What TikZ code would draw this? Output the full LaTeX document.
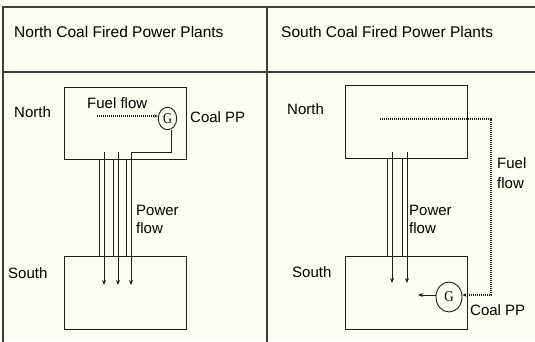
\documentclass[tikz,border=0pt]{standalone}
\usepackage{fontspec}
\setmainfont{Liberation Sans}
\newfontfamily\gfont{Liberation Serif}
\usetikzlibrary{arrows.meta}
\definecolor{bgcream}{RGB}{253,253,240}
\definecolor{inkc}{RGB}{30,30,30}
\begin{document}
\begin{tikzpicture}[x=1pt,y=-1pt,
  lbl/.style={anchor=base west,inner sep=0pt,font=\fontsize{15}{17}\selectfont,text=black},
  ttl/.style={anchor=base west,inner sep=0pt,font=\fontsize{15.5}{18}\selectfont,text=black},
  areabox/.style={draw=inkc,line width=1pt},
  frameline/.style={draw=inkc!85,line width=1.4pt},
  pline/.style={draw=inkc,line width=0.9pt},
  parrow/.style={draw=inkc,line width=0.9pt,-{Stealth[length=5pt,width=4pt]}},
  fuel/.style={draw=inkc,line width=1.1pt,dash pattern=on 1.3pt off 0.7pt},
]
\useasboundingbox (0,0) rectangle (535,341);
\fill[bgcream] (0,0) rectangle (535,341);
\clip (0,0) rectangle (535,341);
% frame
\draw[frameline] (3,345) -- (3,7) -- (540,7);
\draw[frameline] (3,72) -- (540,72);
\draw[frameline] (267,7) -- (267,345);
% titles
\node[ttl] (t1) at (14,37) {North Coal Fired Power Plants};
\node[ttl] (t2) at (281,37) {South Coal Fired Power Plants};

% ===== left panel =====
\node[lbl] (nl) at (14,117) {North};
\node[lbl] (sl) at (8,278) {South};
\draw[areabox] (64,87) rectangle (186,159);
\draw[areabox] (64,256) rectangle (186,329);
\node[lbl] (ff1) at (87,108) {Fuel flow};
\node[draw=inkc,line width=0.9pt,shape=circle,inner sep=0pt,minimum size=21pt,font=\gfont\fontsize{14}{16}\selectfont,xscale=0.88,yscale=1.07] (g1) at (167.5,118.5) {G};
\coordinate (f1s) at (97,116);
\draw[fuel,-{Stealth[length=4pt,width=3.5pt]}] (f1s) -- (f1s -| g1.west);
\node[lbl] (cp1) at (190,122) {Coal PP};
\node[lbl] (pf1a) at (136,215) {Power};
\node[lbl] (pf1b) at (136,233) {flow};
% power lines
\coordinate (k1) at (171,152);
\draw[pline] (g1.south -| k1) -- (k1) -- (131,152) -- (131,160);
\foreach \xa/\xb in {99/104,113/118,126/131}{
  \draw[pline] (\xa,159) -- (\xa,256);
  \draw[parrow] (\xb,152) -- (\xb,285);
}

% ===== right panel =====
\node[lbl] (nr) at (287,114) {North};
\node[lbl] (sr) at (292,277) {South};
\draw[areabox] (345,85) rectangle (467,158);
\draw[areabox] (345,256) rectangle (467,329);
\node[lbl] (ff2a) at (497,168) {Fuel};
\node[lbl] (ff2b) at (497,188) {flow};
\node[lbl] (pf2a) at (409,215) {Power};
\node[lbl] (pf2b) at (409,233) {flow};
\node[draw=inkc,line width=0.9pt,shape=circle,inner sep=0pt,minimum size=28pt,font=\gfont\fontsize{14}{16}\selectfont,xscale=0.93,yscale=1.07] (g2) at (449,297) {G};
\node[lbl] (cp2) at (470,315) {Coal PP};
\coordinate (fs2) at (380,119);
\coordinate (fc2) at (491,119);
\coordinate (fd2) at (491,295);
\draw[fuel,-{Stealth[length=4pt,width=3.5pt]}] (fs2) -- (fc2) -- (fd2) -- (fd2 -| g2.east);
\coordinate (ga2) at (418,295);
\draw[parrow] (g2.west |- ga2) -- (ga2);
\foreach \xa/\xb in {387/392,402/407}{
  \draw[pline] (\xa,158) -- (\xa,256);
  \draw[parrow] (\xb,152) -- (\xb,283);
}
\end{tikzpicture}
\end{document}
